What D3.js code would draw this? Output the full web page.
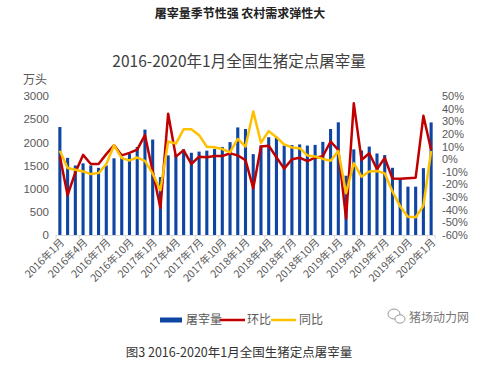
<!DOCTYPE html>
<html><head><meta charset="utf-8">
<script src="https://cdn.jsdelivr.net/npm/d3@7/dist/d3.min.js"></script>
<style>
html,body{margin:0;padding:0;background:#fff;}
svg{display:block;font-family:"Noto Sans CJK SC","Noto Sans",sans-serif;}
</style></head>
<body>
<script>
const months = [];
for (let y = 2016; y <= 2020; y++) for (let m = 1; m <= 12; m++) { if (y === 2020 && m > 1) break; months.push(y + "年" + m + "月"); }
const slaughter = [2330,1665,1500,1547,1500,1450,1500,1655,1675,1747,1900,2275,
  2060,1250,1718,1740,1850,1775,1800,1820,1855,1900,2005,2322,
  2288,1745,1935,2110,2115,1930,1940,1955,1930,1945,2010,2288,
  2432,1280,1848,1825,1908,1760,1725,1450,1212,1043,1043,1443,
  2430];
const mom = [2.3,-28.5,-10.5,3.4,-3.8,-3.8,4,11,3,5,7.5,19,
  -9.5,-38.7,36,2,7,-3.8,2,1.5,2.5,2.5,4.6,3,
  -0.8,-23,10,10.6,1.5,-7.5,0,1.2,-1.5,1.2,2.3,14,
  7.3,-47,44.2,-0.6,4.7,-8,1,-15.3,-15.5,-15,-14.6,34.3,
  7.3];
const yoy = [6.6,-7,-8.4,-9.7,-11.8,-11,-4,11,0.8,-1,1.3,-1.3,
  -11.5,-24.5,14,12.3,23.7,23.7,19,9.8,9.5,8,5.5,16,
  10,37.8,13,22.2,17.4,11.6,9.3,8.7,3,2.2,0.2,-1.2,
  6.4,-26.9,-3.2,-13.8,-9.8,-9.4,-11.2,-25.6,-37.4,-45.6,-45.9,-36.8,
  6.5];
const leftTicks = [0,500,1000,1500,2000,2500,3000];
const rightTicks = [50,40,30,20,10,0,-10,-20,-30,-40,-50,-60];
const legendNames = ["屠宰量","环比","同比"];

const W = 500, H = 367;
const svg = d3.select("body").append("svg").attr("width", W).attr("height", H);
const x = d3.scaleBand().domain(months).range([56, 435]).paddingInner(0.6).paddingOuter(0.3);
const yL = d3.scaleLinear().domain([0, 3000]).range([235, 96]);
const yR = d3.scaleLinear().domain([-60, 50]).range([235, 96]);
const cx = d => x(d) + x.bandwidth() / 2;
const numFont = "'Liberation Sans',Arial,sans-serif";

// titles
svg.append("text").attr("x", 240).attr("y", 18).attr("text-anchor", "middle")
  .attr("font-size", 12).attr("font-weight", "bold").attr("fill", "#222").text("屠宰量季节性强 农村需求弹性大");
svg.append("text").attr("x", 239).attr("y", 67).attr("text-anchor", "middle")
  .attr("font-size", 15.5).attr("fill", "#404040").text("2016-2020年1月全国生猪定点屠宰量");
svg.append("text").attr("x", 23).attr("y", 84).attr("font-size", 12).attr("fill", "#595959").text("万头");

// left axis
const gl = svg.append("g").attr("transform", "translate(56,0)")
  .call(d3.axisLeft(yL).tickValues(leftTicks).tickSize(0).tickPadding(7).tickFormat(d3.format("d")));
gl.select(".domain").remove();
gl.selectAll("text").attr("font-size", 11.5).attr("fill", "#595959").attr("font-family", numFont);
// right axis
const gr = svg.append("g").attr("transform", "translate(435,0)")
  .call(d3.axisRight(yR).tickValues(rightTicks).tickSize(0).tickPadding(7).tickFormat(d => d + "%"));
gr.select(".domain").remove();
gr.selectAll("text").attr("font-size", 11).attr("fill", "#595959").attr("font-family", numFont);

// x axis line and ticks
svg.append("line").attr("x1", 56).attr("x2", 435).attr("y1", 235.5).attr("y2", 235.5).attr("stroke", "#d9d9d9");
const tickIdx = months.map((m, i) => i).filter(i => i % 3 === 0);
svg.selectAll(".xt").data(tickIdx.concat([months.length])).enter().append("line")
  .attr("x1", i => i < months.length ? x(months[i]) - x.step() * x.paddingInner() / 2 : 435)
  .attr("x2", i => i < months.length ? x(months[i]) - x.step() * x.paddingInner() / 2 : 435)
  .attr("y1", 235).attr("y2", 239).attr("stroke", "#d9d9d9");
svg.selectAll(".xl").data(tickIdx).enter().append("text")
  .attr("transform", i => `translate(${cx(months[i]) + 5},243) rotate(-45)`)
  .attr("text-anchor", "end").attr("font-size", 10.5).attr("fill", "#595959").text(i => months[i]);

// bars
svg.selectAll(".bar").data(slaughter).enter().append("rect")
  .attr("x", (d, i) => x(months[i])).attr("width", x.bandwidth())
  .attr("y", d => yL(d)).attr("height", d => 235 - yL(d)).attr("fill", "#0e45a3");

// lines
const lineGen = d3.line().x((d, i) => cx(months[i])).y(d => yR(d));
svg.append("path").datum(mom).attr("d", lineGen).attr("fill", "none").attr("stroke", "#c00000").attr("stroke-width", 2.5).attr("stroke-linejoin", "round");
svg.append("path").datum(yoy).attr("d", lineGen).attr("fill", "none").attr("stroke", "#ffc000").attr("stroke-width", 2.5).attr("stroke-linejoin", "round");

// legend
const lg = svg.append("g");
lg.append("rect").attr("x", 160).attr("y", 317.5).attr("width", 22).attr("height", 5).attr("fill", "#0e45a3");
lg.append("text").attr("x", 186).attr("y", 324).attr("font-size", 12).attr("fill", "#595959").text(legendNames[0]);
lg.append("line").attr("x1", 220).attr("x2", 245).attr("y1", 320).attr("y2", 320).attr("stroke", "#c00000").attr("stroke-width", 2.5);
lg.append("text").attr("x", 247).attr("y", 324).attr("font-size", 12).attr("fill", "#595959").text(legendNames[1]);
lg.append("line").attr("x1", 271).attr("x2", 296).attr("y1", 320).attr("y2", 320).attr("stroke", "#ffc000").attr("stroke-width", 2.5);
lg.append("text").attr("x", 299).attr("y", 324).attr("font-size", 12).attr("fill", "#595959").text(legendNames[2]);

// watermark
const wm = svg.append("g").attr("fill", "none").attr("stroke", "#999").attr("stroke-width", 1);
wm.append("ellipse").attr("cx", 394).attr("cy", 314).attr("rx", 6).attr("ry", 5);
wm.append("ellipse").attr("cx", 400).attr("cy", 319).attr("rx", 5).attr("ry", 4.2).attr("fill", "#fff");
svg.append("text").attr("x", 409).attr("y", 322).attr("font-size", 12).attr("fill", "#777").text("猪场动力网");

// caption
svg.append("text").attr("x", 239).attr("y", 357).attr("text-anchor", "middle")
  .attr("font-size", 12.5).attr("fill", "#333").text("图3 2016-2020年1月全国生猪定点屠宰量");
</script>
</body></html>
